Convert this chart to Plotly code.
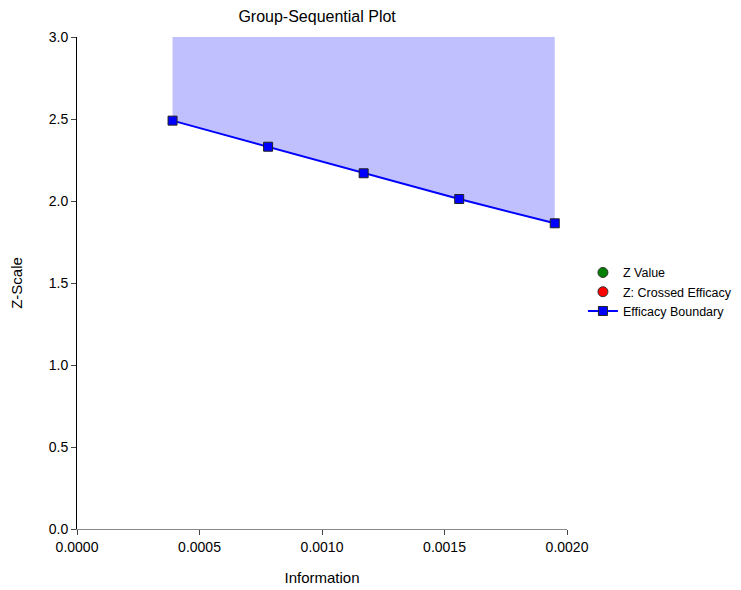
import plotly.graph_objects as go

information = [0.00039, 0.00078, 0.00117, 0.00156, 0.00195]
efficacy_boundary = [2.490, 2.331, 2.169, 2.012, 1.864]
z_max = 3.0
x_ticks = [0.0, 0.0005, 0.0010, 0.0015, 0.0020]
y_ticks = [0.0, 0.5, 1.0, 1.5, 2.0, 2.5, 3.0]

fig = go.Figure()
# top edge of the efficacy region
fig.add_trace(go.Scatter(x=information, y=[z_max] * len(information), mode="lines",
                         line=dict(width=0, color="rgba(0,0,0,0)"), showlegend=False, hoverinfo="skip"))
fig.add_trace(go.Scatter(x=information, y=efficacy_boundary, mode="lines", fill="tonexty",
                         fillcolor="rgb(192,192,255)", line=dict(width=0, color="rgba(0,0,0,0)"),
                         showlegend=False, hoverinfo="skip"))
fig.add_trace(go.Scatter(x=[None], y=[None], mode="markers", name="Z Value", legendgroup="a",
                         marker=dict(symbol="circle", color="green", size=10, line=dict(color="#333", width=1))))
fig.add_trace(go.Scatter(x=[None], y=[None], mode="markers", name="Z: Crossed Efficacy", legendgroup="b",
                         marker=dict(symbol="circle", color="red", size=10, line=dict(color="#333", width=1))))
fig.add_trace(go.Scatter(x=information, y=efficacy_boundary, mode="lines+markers", name="Efficacy Boundary",
                         legendgroup="c", line=dict(color="blue", width=2),
                         marker=dict(symbol="square", color="blue", size=9, line=dict(color="#222", width=1))))

fig.update_layout(
    width=741, height=590,
    paper_bgcolor="white", plot_bgcolor="white",
    margin=dict(l=69, r=180, t=29, b=69),
    font=dict(family="Arial, Liberation Sans, sans-serif", size=13, color="black"),
    title=dict(text="Group-Sequential Plot", x=0.49, xref="paper", y=0.985, yref="container",
               yanchor="middle", font=dict(size=16)),
    legend=dict(x=1.0325, y=0.482, xanchor="left", yanchor="middle",
                font=dict(size=12.5), bgcolor="rgba(0,0,0,0)", itemwidth=30,
                tracegroupgap=6, traceorder="normal"),
    showlegend=True,
)
fig.update_xaxes(range=[0, 0.002], tickvals=x_ticks, tickformat=".4f", ticks="outside", ticklen=5,
                 showline=True, linecolor="#888", linewidth=1, showgrid=False, zeroline=False,
                 automargin=False, tickfont=dict(size=14),
                 title=dict(text="Information", font=dict(size=15), standoff=18))
fig.update_yaxes(range=[0, 3.0], tickvals=y_ticks, tickformat=".1f", ticks="outside", ticklen=5,
                 showline=True, linecolor="black", linewidth=1, showgrid=False, zeroline=False,
                 automargin=False, tickfont=dict(size=14),
                 title=dict(text="Z-Scale", font=dict(size=15), standoff=23))
fig.write_html("out.html")
